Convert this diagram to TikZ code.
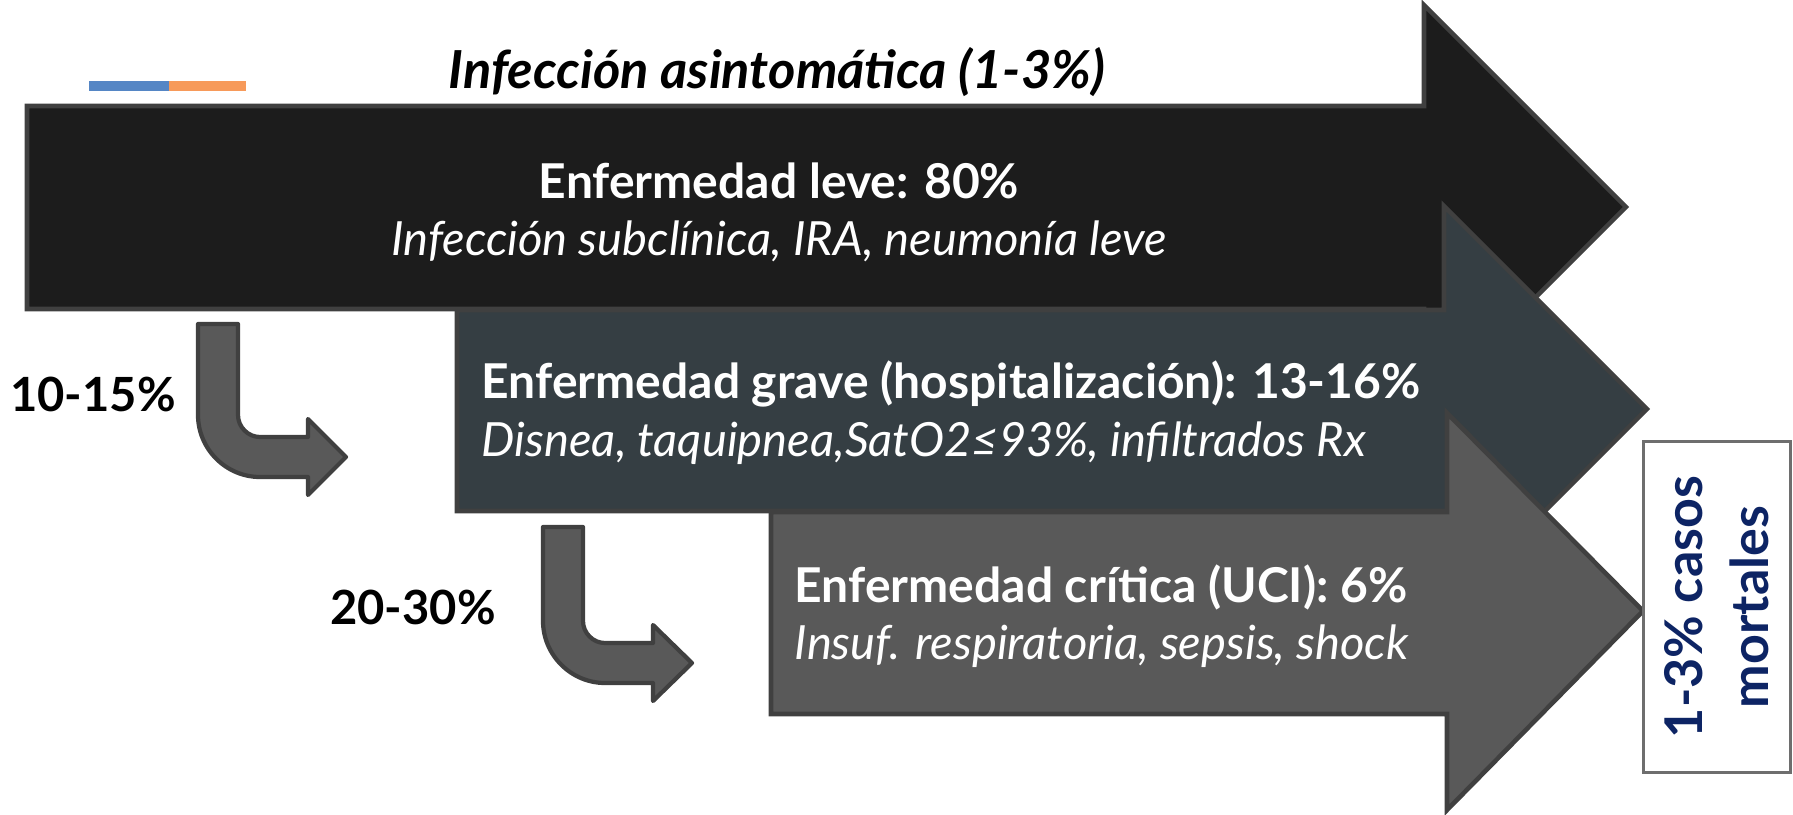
\documentclass[tikz,border=0pt]{standalone}
\usepackage{fontspec}
\setmainfont{Lato}

\definecolor{nearblack}{HTML}{1C1C1C}
\definecolor{slate}{HTML}{353E43}
\definecolor{midgray}{HTML}{595959}
\definecolor{edgegray}{HTML}{404040}
\definecolor{boxgray}{HTML}{6E6E6E}
\definecolor{navy}{HTML}{0D2464}
\definecolor{barblue}{HTML}{5586C5}
\definecolor{barorange}{HTML}{F79A5A}

\newcommand{\headsize}{\fontsize{13.65}{16.5}\selectfont}
\newcommand{\subsize}{\fontsize{13.4}{16.5}\selectfont}
\newcommand{\titlesize}{\fontsize{14.9}{18}\selectfont}
\newcommand{\pctsize}{\fontsize{13.4}{17}\selectfont}
\newcommand{\boxsize}{\fontsize{14.8}{18.8}\selectfont}

\begin{document}
\begin{tikzpicture}[x=0.01cm, y=-0.01cm,
    stage/.style={draw=edgegray, line width=1.3pt},
    bentarrow/.style={draw=edgegray, fill=midgray, line width=1.2pt, line join=round},
    head/.style={text=white, font=\headsize\bfseries, inner sep=0pt},
    sub/.style={text=white, font=\subsize\itshape, inner sep=0pt},
    pct/.style={font=\pctsize\bfseries, inner sep=0pt}]
        \useasboundingbox (0,0) rectangle (1793,815);

        % colour bars and title
        \fill[barblue] (89,81) rectangle (169,91);
        \fill[barorange] (169,81) rectangle (246,91);
        \node[font=\titlesize\bfseries\itshape, inner sep=0pt, anchor=base] (asint) at (777,88) {Infección asintomática (1-3\%)};

        % the three stage arrows
        \draw[stage, fill=nearblack] (27,106) -- (1424,106) -- (1424,5) -- (1626,207) -- (1424,409) -- (1424,309) -- (27,309) -- cycle;
        \draw[stage, fill=slate] (457,310) -- (1444,310) -- (1444,206) -- (1647,409) -- (1444,612) -- (1444,511) -- (457,511) -- cycle;
        \draw[stage, fill=midgray] (771,512) -- (1447,512) -- (1447,413) -- (1643,611) -- (1447,810) -- (1447,714) -- (771,714) -- cycle;

        \node[head, anchor=base] (leve) at (779,198) {Enfermedad leve: 80\%};
        \node[sub, anchor=base] (leve-sub) at (779,255) {Infección subclínica, IRA, neumonía leve};

        \node[head, anchor=base west] (grave) at (481,398) {Enfermedad grave (hospitalización): 13-16\%};
        \node[sub, anchor=base west] (grave-sub) at (481,456) {Disnea, taquipnea,SatO2≤93\%, infiltrados Rx};

        \node[head, anchor=base west] (critica) at (794,602) {Enfermedad crítica (UCI): 6\%};
        \node[sub, anchor=base west] (critica-sub) at (794,659) {Insuf. respiratoria, sepsis, shock};

        % bent arrows
        \draw[bentarrow] (198,324) -- (238,324) -- (238,415) .. controls (238,427) and (248,437) .. (260,437) -- (308,437) -- (308,419) -- (346,457) -- (308,495) -- (308,477) -- (260,477) .. controls (226,477) and (198,449) .. (198,415) -- cycle;
        \draw[bentarrow] (543,527) -- (583,527) -- (583,621) .. controls (583,633) and (593,643) .. (605,643) -- (653,643) -- (653,625) -- (692,663) -- (653,701) -- (653,683) -- (605,683) .. controls (571,683) and (543,655) .. (543,621) -- cycle;

        \node[pct, anchor=base] (pct-grave) at (93,411) {10-15\%};
        \node[pct, anchor=base] (pct-critica) at (413,624) {20-30\%};

        % outcome box
        \node[draw=boxgray, fill=white, line width=0.9pt, rotate=90, minimum width=3.3cm, minimum height=1.47cm,
              align=center, text=navy, font=\boxsize\bfseries, inner sep=0pt] (mortal) at (1717,607) {1-3\% casos\\mortales};
    \end{tikzpicture}
\end{document}
